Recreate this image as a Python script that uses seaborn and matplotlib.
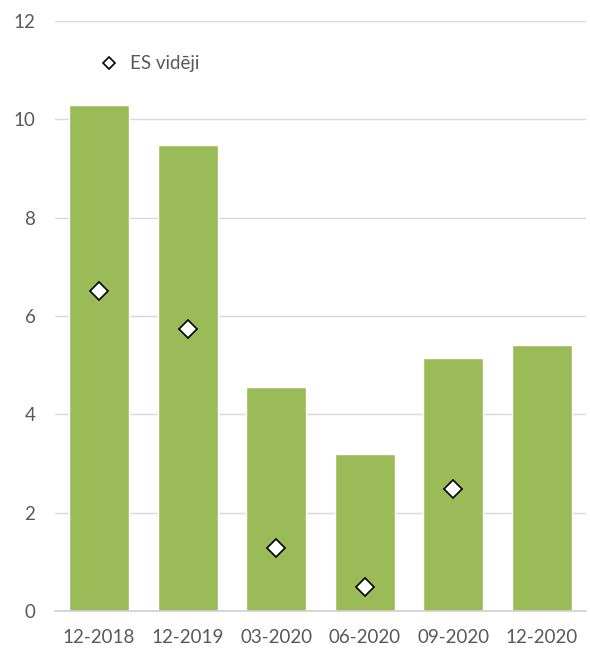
import matplotlib
matplotlib.use("Agg")
import matplotlib.pyplot as plt
import seaborn as sns
import pandas as pd
import numpy as np

# data
periods = ["12-2018", "12-2019", "03-2020", "06-2020", "09-2020", "12-2020"]
latvia = [10.29, 9.48, 4.56, 3.19, 5.15, 5.41]
eu_avg = [6.51, 5.74, 1.28, 0.49, 2.48, np.nan]

sns.set_theme(style="white")
plt.rcParams["font.family"] = ["Lato", "DejaVu Sans"]

df = pd.DataFrame({"period": periods, "latvia": latvia, "eu": eu_avg})

fig = plt.figure(figsize=(5.9, 6.48), dpi=100)
ax = fig.add_axes([0.093, 0.057, 0.9, 0.911])

sns.barplot(data=df, x="period", y="latvia", order=periods, color="#9BBB59",
            saturation=1, width=0.68, ax=ax, zorder=2)
sns.pointplot(data=df.dropna(), x="period", y="eu", order=periods, linestyle="none",
              markers="D", color="white", markersize=9, markeredgecolor="black",
              markeredgewidth=1.2, errorbar=None, ax=ax, label="ES vidēji", zorder=3)

ax.set_ylim(0, 12)
ax.set_xlim(-0.5, 5.5)
ax.set_yticks(range(0, 13, 2))
ax.yaxis.grid(True, color="#D9D9D9", linewidth=1)
ax.set_axisbelow(True)
for s in ["top", "right", "left"]:
    ax.spines[s].set_visible(False)
ax.spines["bottom"].set_color("#D0D0D0")
ax.spines["bottom"].set_linewidth(1.2)
ax.set_xlabel("")
ax.set_ylabel("")
ax.tick_params(axis="both", length=0, labelsize=13.5, colors="#595959")
ax.tick_params(axis="x", pad=13)
ax.tick_params(axis="y", pad=14)

leg = ax.legend(loc="upper left", bbox_to_anchor=(0.035, 0.97), frameon=False,
                fontsize=13.5, labelcolor="#595959", handletextpad=0.1, markerscale=0.7)

fig.savefig("out.png", dpi=100)
